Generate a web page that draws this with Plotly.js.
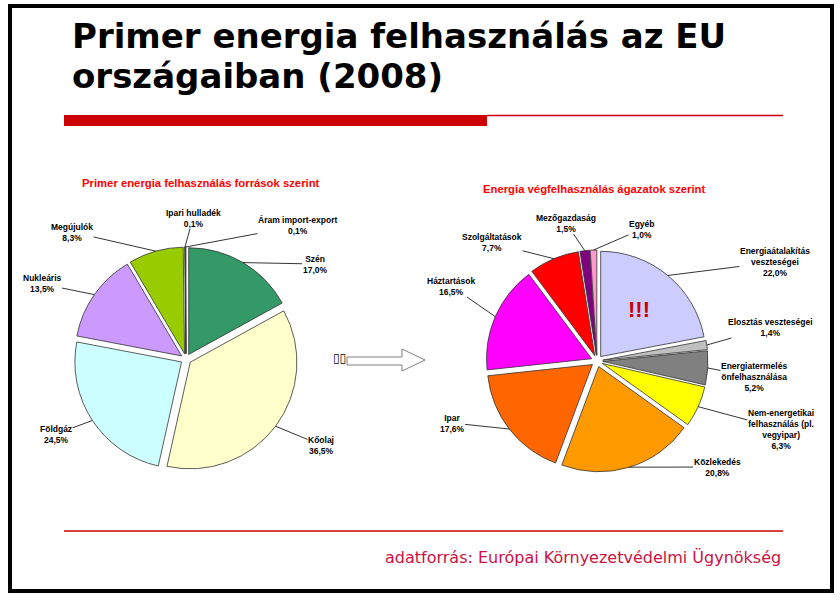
<!DOCTYPE html>
<html><head><meta charset="utf-8">
<script src="https://cdn.plot.ly/plotly-3.0.1.min.js"></script>
<style>body{margin:0;background:#fff}#chart{width:840px;height:600px}</style>
</head><body><div id="chart"></div>
<script>
// ---- data ----
const sourceLabels = ['Szén', 'Kőolaj', 'Földgáz', 'Nukleáris', 'Megújulók', 'Ipari hulladék', 'Áram import-export'];
const sourceValues = [17.0, 36.5, 24.5, 13.5, 8.3, 0.1, 0.1];
const sectorLabels = ['Energiaátalakítás veszteségei', 'Elosztás veszteségei', 'Energiatermelés önfelhasználása',
  'Nem-energetikai felhasználás (pl. vegyipar)', 'Közlekedés', 'Ipar', 'Háztartások', 'Szolgáltatások', 'Mezőgazdaság', 'Egyéb'];
const sectorValues = [22.0, 1.4, 5.2, 6.3, 20.8, 17.6, 16.5, 7.7, 1.5, 1.0];
const mainTitle1 = 'Primer energia felhasználás az EU';
const mainTitle2 = 'országaiban (2008)';
const leftTitle = 'Primer energia felhasználás források szerint';
const rightTitle = 'Energia végfelhasználás ágazatok szerint';
const sourceNote = 'adatforrás: Európai Környezetvédelmi Ügynökség';

// ---- styles / layout (not data) ----
const W = 840, H = 600;
const sourceColors = ['#339966', '#ffffcc', '#ccffff', '#cc99ff', '#99cc00', '#ffff99', '#808080'];
const sectorColors = ['#ccccff', '#c0c0c0', '#808080', '#ffff00', '#ff9900', '#ff6600', '#ff00ff', '#ff0000', '#800080', '#ff99cc'];
const sourceWrap = {};
const sectorWrap = {
  'Energiaátalakítás veszteségei': 'Energiaátalakítás<br>veszteségei',
  'Energiatermelés önfelhasználása': 'Energiatermelés<br>önfelhasználása',
  'Nem-energetikai felhasználás (pl. vegyipar)': 'Nem-energetikai<br>felhasználás (pl.<br>vegyipar)'
};
const leftPie = {cx: 186, cy: 359, half: 112, pull: 0.05};
const rightPie = {cx: 597, cy: 361, half: 111, pull: 0.055};
const sourceLabelPos = [[315, 264], [321, 445], [56, 434], [42, 284], [72, 232], [193, 218], [298, 226]];
const sectorLabelPos = [[775, 262], [770, 327], [754, 377], [781, 429], [717, 467], [452, 423], [451, 286], [492, 243], [566, 223], [642, 229]];

const px = x => x / W, py = y => 1 - y / H;
const fmt = v => v.toFixed(1).replace('.', ',') + '%';
const labFont = {family: 'Liberation Sans, Arial, sans-serif', size: 8.5, color: '#000'};

function pieTrace(labels, values, colors, p) {
  return {
    type: 'pie', labels: labels, values: values, sort: false, direction: 'clockwise', rotation: 0,
    pull: p.pull, textinfo: 'none', hoverinfo: 'label+value', showlegend: false,
    marker: {colors: colors, line: {color: '#333333', width: 0.8}},
    domain: {x: [px(p.cx - p.half), px(p.cx + p.half)], y: [py(p.cy + p.half), py(p.cy - p.half)]}
  };
}
function midAngles(values) {
  const tot = values.reduce((a, b) => a + b, 0);
  let cum = 0;
  return values.map(v => { const m = (cum + v / 2) / tot * 2 * Math.PI; cum += v; return m; });
}
function leaders(labels, values, p, pos, wrap) {
  const mids = midAngles(values);
  return labels.map((lab, i) => {
    const tx = p.cx + p.half * Math.sin(mids[i]);
    const ty = p.cy - p.half * Math.cos(mids[i]);
    return {
      x: px(tx), y: py(ty), xref: 'paper', yref: 'paper',
      ax: pos[i][0] - tx, ay: pos[i][1] - ty,
      text: '<b>' + (wrap[lab] || lab) + '<br>' + fmt(values[i]) + '</b>',
      showarrow: true, arrowhead: 0, arrowwidth: 0.8, arrowcolor: '#000', standoff: 0,
      font: labFont, align: 'center', borderpad: 0
    };
  });
}

const annotations = [].concat(
  leaders(sourceLabels, sourceValues, leftPie, sourceLabelPos, sourceWrap),
  leaders(sectorLabels, sectorValues, rightPie, sectorLabelPos, sectorWrap)
);
// "!!!" inside the first sector slice
const m0 = midAngles(sectorValues)[0];
annotations.push({
  x: px(rightPie.cx + 0.6 * rightPie.half * Math.sin(m0)), y: py(rightPie.cy - 0.6 * rightPie.half * Math.cos(m0)),
  xref: 'paper', yref: 'paper', xanchor: 'center', yanchor: 'middle', showarrow: false, text: '<b>!!!</b>',
  font: {family: 'Liberation Sans, Arial, sans-serif', size: 22, color: '#cc0000'}
});
annotations.push(
  {x: px(70), y: py(35.5), xref: 'paper', yref: 'paper', xanchor: 'left', yanchor: 'middle', showarrow: false,
   text: '<b>' + mainTitle1 + '</b>', font: {family: 'DejaVu Sans, sans-serif', size: 34, color: '#000'}},
  {x: px(70), y: py(75.5), xref: 'paper', yref: 'paper', xanchor: 'left', yanchor: 'middle', showarrow: false,
   text: '<b>' + mainTitle2 + '</b>', font: {family: 'DejaVu Sans, sans-serif', size: 34, color: '#000'}},
  {x: px(201), y: py(183), xref: 'paper', yref: 'paper', xanchor: 'center', yanchor: 'middle', showarrow: false,
   text: '<b>' + leftTitle + '</b>', font: {family: 'Liberation Sans, Arial, sans-serif', size: 11.3, color: '#ff0000'}},
  {x: px(594), y: py(189), xref: 'paper', yref: 'paper', xanchor: 'center', yanchor: 'middle', showarrow: false,
   text: '<b>' + rightTitle + '</b>', font: {family: 'Liberation Sans, Arial, sans-serif', size: 11.3, color: '#ff0000'}},
  {x: px(783), y: py(557), xref: 'paper', yref: 'paper', xanchor: 'right', yanchor: 'middle', showarrow: false,
   text: sourceNote, font: {family: 'DejaVu Sans, sans-serif', size: 16, color: '#cc1144'}},
  {x: px(339), y: py(358), xref: 'paper', yref: 'paper', xanchor: 'center', yanchor: 'middle', showarrow: false,
   text: '▯▯', font: {family: 'DejaVu Sans, sans-serif', size: 12, color: '#000'}}
);

const arrowPts = [[347, 357], [402, 357], [402, 349], [425, 360], [402, 371], [402, 365], [347, 365]];
const arrowPath = 'M' + arrowPts.map(p => px(p[0]) + ',' + py(p[1])).join(' L') + ' Z';

const shapes = [
  {type: 'rect', xref: 'paper', yref: 'paper', x0: px(10), x1: px(832), y0: py(591), y1: py(6), line: {color: '#000', width: 4}},
  {type: 'rect', xref: 'paper', yref: 'paper', x0: px(64), x1: px(487), y0: py(126), y1: py(115), fillcolor: '#cc0000', line: {width: 0}},
  {type: 'line', xref: 'paper', yref: 'paper', x0: px(487), x1: px(783), y0: py(115.5), y1: py(115.5), line: {color: '#cc0000', width: 1.5}},
  {type: 'line', xref: 'paper', yref: 'paper', x0: px(64), x1: px(783), y0: py(531), y1: py(531), line: {color: '#cc0000', width: 1.5}},
  {type: 'path', xref: 'paper', yref: 'paper', path: arrowPath, fillcolor: '#ffffff', line: {color: '#808080', width: 1}}
];

const data = [
  pieTrace(sourceLabels, sourceValues, sourceColors, leftPie),
  pieTrace(sectorLabels, sectorValues, sectorColors, rightPie)
];
const layout = {
  width: W, height: H, margin: {l: 0, r: 0, t: 0, b: 0},
  paper_bgcolor: '#ffffff', plot_bgcolor: '#ffffff',
  annotations: annotations, shapes: shapes, showlegend: false
};
Plotly.newPlot('chart', data, layout, {displayModeBar: false, responsive: false});
</script>
</body></html>
